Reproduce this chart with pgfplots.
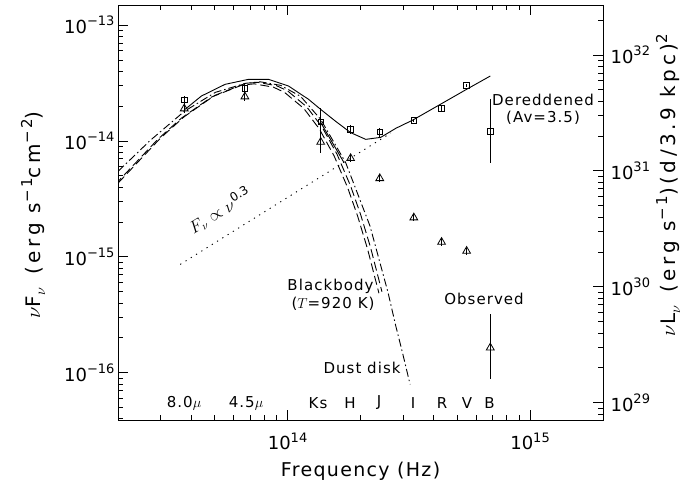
\documentclass[border=0pt]{standalone}
\usepackage{fontspec}
\setmainfont{DejaVu Sans}
\newfontfamily\lbl[LetterSpace=7]{DejaVu Sans}
\newfontfamily\ylbl[LetterSpace=18]{DejaVu Sans}
\usepackage{pgfplots}
\pgfplotsset{compat=1.18}
\usetikzlibrary{calc}

% tick label 10^n in the text font
\newcommand\tk[1]{10\raisebox{7.5pt}{\fontsize{13}{13}\selectfont #1}}
\newcommand\up[1]{\raisebox{8pt}{\fontsize{15}{15}\selectfont #1}}
\newcommand\dn[1]{\raisebox{-5pt}{\fontsize{15}{15}\selectfont #1}}
\newcommand\ann{\lbl\fontsize{15}{17}\selectfont}

\begin{document}
\begin{tikzpicture}
\begin{axis}[
  name=ax,
  scale only axis, width=485pt, height=415pt,
  clip mode=individual,
  xmode=log, ymode=log,
  xmin=2e13, xmax=2e15, ymin=3.91e-17, ymax=1.488e-13,
  xtick={1e14,1e15}, xticklabels={\tk{14},\tk{15}},
  minor xtick={3e13,4e13,5e13,6e13,7e13,8e13,9e13,2e14,3e14,4e14,5e14,6e14,7e14,8e14,9e14},
  ytick={1e-16,1e-15,1e-14,1e-13},
  yticklabels={\tk{−16},\tk{−15},\tk{−14},\tk{−13}},
  minor ytick={4e-17,5e-17,6e-17,7e-17,8e-17,9e-17,2e-16,3e-16,4e-16,5e-16,6e-16,7e-16,8e-16,9e-16,
    2e-15,3e-15,4e-15,5e-15,6e-15,7e-15,8e-15,9e-15,2e-14,3e-14,4e-14,5e-14,6e-14,7e-14,8e-14,9e-14},
  ytick pos=left,
  major tick length=10pt, minor tick length=5pt,
  tick style={black, line width=0.8pt},
  axis line style={line width=1pt},
  tick label style={font=\fontsize{18}{18}\selectfont},
  xticklabel style={yshift=-9pt},
  xlabel={\lbl\fontsize{19}{19}\selectfont Frequency (Hz)},
  xlabel style={yshift=-5pt},
  error bars/y dir=both, error bars/y explicit,
  error bars/error mark=none,
  error bars/error bar style={line width=0.9pt, solid},
]
% power law F_nu ~ nu^0.3
\addplot[black, line width=0.9pt, dash pattern=on 1.2pt off 5pt] coordinates {(3.61e13,8.61e-16) (2.666e14,1.17e-14)};
% blackbody, T = 920 K
\addplot[black, line width=0.9pt, dash pattern=on 9pt off 4pt] coordinates {
 (2e13,4.325e-15) (3e13,1.064e-14) (3.75e13,1.618e-14) (5e13,2.466e-14) (6.67e13,3.126e-14)
 (7.5e13,3.206e-14) (9e13,2.999e-14) (1e14,2.704e-14) (1.2e14,1.968e-14) (1.39e14,1.312e-14)
 (1.6e14,7.674e-15) (1.82e14,4.083e-15) (2.0e14,2.328e-15) (2.2e14,1.202e-15) (2.45e14,5.01e-16)};
\addplot[black, line width=0.9pt, dash pattern=on 9pt off 4pt] coordinates {
 (1.944e13,4.195e-15) (2.916e13,1.032e-14) (3.645e13,1.569e-14) (4.86e13,2.392e-14) (6.483e13,3.032e-14)
 (7.29e13,3.110e-14) (8.748e13,2.909e-14) (9.72e13,2.623e-14) (1.1664e14,1.909e-14) (1.3511e14,1.273e-14)
 (1.5552e14,7.444e-15) (1.769e14,3.961e-15) (1.944e14,2.258e-15) (2.138e14,1.166e-15) (2.381e14,4.86e-16)};
% dust disk
\addplot[black, line width=0.9pt, dash pattern=on 8pt off 3pt on 1.5pt off 3pt] coordinates {
 (2e13,5.465e-15) (2.717e13,1.012e-14) (3.753e13,1.800e-14) (5.041e13,2.626e-14) (6.706e13,3.141e-14)
 (7.734e13,3.236e-14) (9.355e13,3.018e-14) (1.132e14,2.425e-14) (1.369e14,1.536e-14) (1.737e14,6.496e-15)
 (2.188e14,1.844e-15) (2.597e14,4.910e-16) (2.795e14,2.528e-16) (2.978e14,1.491e-16) (3.201e14,7.94e-17)};
% total model
\addplot[black, line width=0.9pt] coordinates {
 (3.779e13,1.873e-14) (4.413e13,2.440e-14) (5.528e13,3.079e-14) (6.901e13,3.400e-14) (8.345e13,3.400e-14)
 (1.0095e14,2.977e-14) (1.221e14,2.285e-14) (1.369e14,1.873e-14) (1.579e14,1.476e-14) (1.821e14,1.179e-14)
 (2.101e14,1.032e-14) (2.423e14,1.074e-14) (2.795e14,1.285e-14) (3.285e14,1.514e-14) (4.287e14,2.081e-14)
 (5.439e14,2.767e-14) (6.855e14,3.631e-14)};
\addplot[black, line width=0.9pt] coordinates {(1.369e14,1.447e-14) (1.709e14,6.50e-15)};
% dereddened
\addplot[black, only marks, mark=square, mark size=2.8pt, mark options={fill=none, line width=0.8pt}] coordinates {
 (3.75e13,2.254e-14) +- (0,0.2e-14)
 (6.67e13,2.827e-14) +- (0,0.25e-14)
 (1.37e14,1.456e-14) += (0,0.482e-14) -= (0,0.345e-14)
 (1.82e14,1.259e-14) +- (0,0.11e-14)
 (2.40e14,1.193e-14) +- (0,0.11e-14)
 (3.317e14,1.497e-14) +- (0,0.05e-14)
 (4.316e14,1.911e-14) +- (0,0.1e-14)
 (5.475e14,3.018e-14) +- (0,0.1e-14)
 (6.855e14,1.209e-14) += (0,1.077e-14) -= (0,0.568e-14)};
% observed
\addplot[black, only marks, mark=triangle, mark size=4.5pt, mark options={fill=none, line width=0.8pt}] coordinates {
 (3.75e13,1.900e-14) +- (0,0.15e-14)
 (6.67e13,2.411e-14) +- (0,0.22e-14)
 (1.37e14,9.78e-15) += (0,2.79e-15) -= (0,1.85e-15)
 (1.82e14,7.08e-15) +- (0,0.5e-15)
 (2.40e14,4.755e-15) +- (0,0.35e-15)
 (3.317e14,2.179e-15) +- (0,0.15e-15)
 (4.316e14,1.341e-15) +- (0,0.1e-15)
 (5.475e14,1.122e-15) +- (0,0.08e-15)
 (6.855e14,1.646e-16) += (0,1.544e-16) -= (0,0.757e-16)};

\node[rotate=90] at (rel axis cs:-0.175,0.494) {\ylbl\fontsize{20}{20}\selectfont $\nu$F\dn{$\nu$}\, (erg s\up{−1}cm\up{−2})};
\node at (rel axis cs:0.8763,0.7711) {\ann Dereddened};
\node at (rel axis cs:0.8763,0.7277) {\ann (Av=3.5)};
\node at (rel axis cs:0.4381,0.3212) {\ann Blackbody};
\node at (rel axis cs:0.4433,0.2812) {\ann ($T$=920 K)};
\node at (rel axis cs:0.5031,0.1253) {\ann Dust disk};
\node at (rel axis cs:0.7546,0.2908) {\ann Observed};
\node[rotate=31.5] at (rel axis cs:0.2103,0.5040) {\fontsize{16}{16}\selectfont $F_{\nu}\propto\nu^{\mbox{\fontsize{12}{12}\selectfont 0.3}}$};
% band names
\node at (rel axis cs:0.1361,0.041) {\ann 8.0$\mu$};
\node at (rel axis cs:0.2639,0.041) {\ann 4.5$\mu$};
\node at (rel axis cs:0.4124,0.041) {\ann Ks};
\node at (rel axis cs:0.4784,0.041) {\ann H};
\node at (rel axis cs:0.5381,0.041) {\ann J};
\node at (rel axis cs:0.6082,0.041) {\ann I};
\node at (rel axis cs:0.6680,0.041) {\ann R};
\node at (rel axis cs:0.7196,0.041) {\ann V};
\node at (rel axis cs:0.7660,0.041) {\ann B};
\end{axis}
\begin{axis}[
  scale only axis, width=485pt, height=415pt,
  clip mode=individual,
  xmode=log, ymode=log,
  xmin=2e13, xmax=2e15, ymin=7.097e28, ymax=2.701e32,
  hide x axis,
  ytick={1e29,1e30,1e31,1e32},
  yticklabels={\tk{29},\tk{30},\tk{31},\tk{32}},
  minor ytick={8e28,9e28,2e29,3e29,4e29,5e29,6e29,7e29,8e29,9e29,2e30,3e30,4e30,5e30,6e30,7e30,8e30,9e30,
    2e31,3e31,4e31,5e31,6e31,7e31,8e31,9e31,2e32},
  ytick pos=right, yticklabel pos=right,
  major tick length=10pt, minor tick length=5pt,
  tick style={black, line width=0.8pt},
  axis line style={line width=1pt},
  tick label style={font=\fontsize{18}{18}\selectfont},
  yticklabel style={xshift=4pt},
]
\node[rotate=90] at (rel axis cs:1.134,0.566) {\ylbl\fontsize{20}{20}\selectfont $\nu$L\dn{$\nu$}\, (erg s\up{−1})(d/3.9 kpc)\up{2}};
\end{axis}
\pgfresetboundingbox
\path[use as bounding box] ($(ax.south west)+(-118pt,-69pt)$) rectangle ($(ax.north east)+(83pt,5pt)$);
\end{tikzpicture}
\end{document}
